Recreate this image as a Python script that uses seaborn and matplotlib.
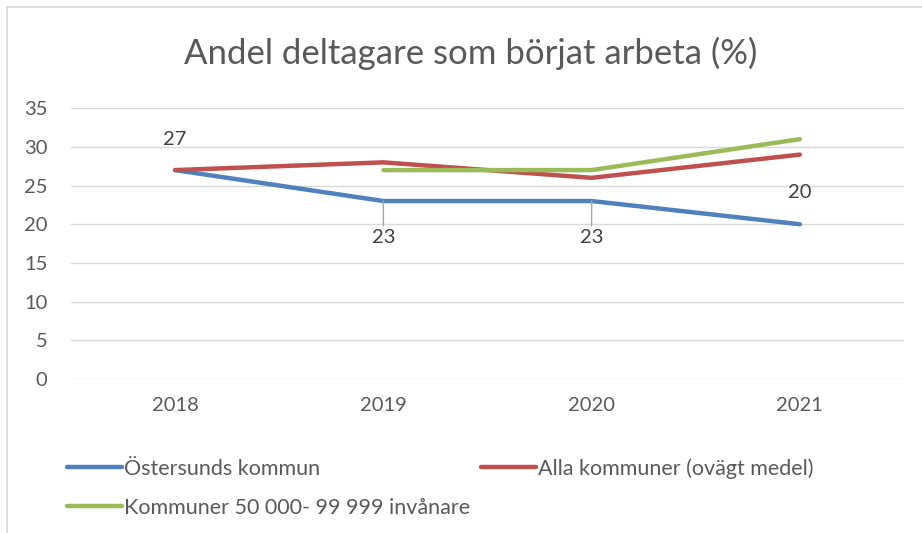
import pandas as pd
import matplotlib.pyplot as plt
import seaborn as sns
from matplotlib.patches import Rectangle

# Data
years = ["2018", "2019", "2020", "2021"]
ostersund = [27, 23, 23, 20]
alla = [27, 28, 26, 29]
kommuner_50k = [None, 27, 27, 31]
series_names = ["Östersunds kommun", "Alla kommuner (ovägt medel)",
                "Kommuner 50 000- 99 999 invånare"]
colors = ["#4F81BD", "#C0504D", "#9BBB59"]

rows = []
for name, vals in zip(series_names, [ostersund, alla, kommuner_50k]):
    for yr, v in zip(years, vals):
        rows.append({"year": yr, "value": v, "series": name})
df = pd.DataFrame(rows).dropna()

sns.set_style("white")
plt.rcParams["font.family"] = ["Lato", "DejaVu Sans"]
text_col = "#595959"

fig = plt.figure(figsize=(9.22, 5.33), dpi=100)
ax = fig.add_axes([0.077, 0.289, 0.9035, 0.508])

sns.lineplot(data=df, x="year", y="value", hue="series", hue_order=series_names,
             palette=colors, linewidth=3.2, ax=ax, sort=False,
             solid_capstyle="round", legend=True)

ax.set_xlim(-0.5, 3.5)
ax.set_ylim(0, 35)
ax.set_yticks(range(0, 36, 5))
ax.yaxis.grid(True, color="#D9D9D9", linewidth=1)
ax.set_axisbelow(True)
for s in ax.spines.values():
    s.set_visible(False)
ax.tick_params(axis="both", length=0, labelsize=14.5, colors=text_col)
ax.tick_params(axis="x", pad=13)
ax.tick_params(axis="y", pad=17)
ax.set_xlabel("")
ax.set_ylabel("")

# data labels for Östersund
ax.annotate(str(ostersund[0]), xy=(0, ostersund[0]), xytext=(0, 16),
            textcoords="offset points", ha="center", va="bottom",
            fontsize=14.5, color="#404040")
for i in (1, 2):
    ax.annotate(str(ostersund[i]), xy=(i, ostersund[i]), xytext=(0, -20),
                textcoords="offset points", ha="center", va="top",
                fontsize=14.5, color="#404040",
                arrowprops=dict(arrowstyle="-", color="#A6A6A6", lw=1,
                                shrinkA=0, shrinkB=0))
ax.annotate(str(ostersund[3]), xy=(3, ostersund[3]), xytext=(0, 17),
            textcoords="offset points", ha="center", va="bottom",
            fontsize=14.5, color="#404040")

handles, labels = ax.get_legend_handles_labels()
ax.legend_.remove()
order = [0, 2, 1]
fig.legend([handles[i] for i in order], [labels[i] for i in order],
           loc="upper left", bbox_to_anchor=(0.052, 0.177),
           ncol=2, frameon=False, fontsize=15.5, labelcolor=text_col,
           handlelength=2.55, handletextpad=0.1, columnspacing=0.5,
           labelspacing=0.9)

fig.text(0.51, 0.9, "Andel deltagare som börjat arbeta (%)", ha="center",
         va="center", fontsize=25, color=text_col)

fig.patches.append(Rectangle((7 / 922, -0.05), 1.2, 1 - 7 / 533 + 0.05,
                             transform=fig.transFigure, fill=False,
                             edgecolor="#D9D9D9", linewidth=1.2))

fig.savefig("out.png", dpi=100)
